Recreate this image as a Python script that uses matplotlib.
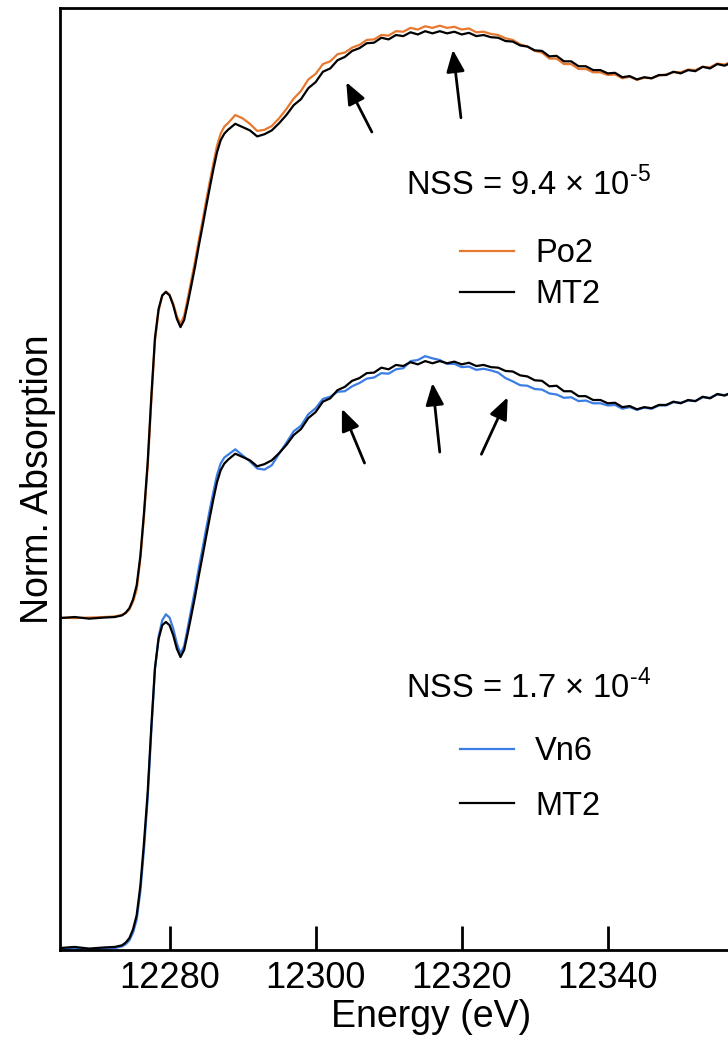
import numpy as np
import matplotlib
matplotlib.use("Agg")
import matplotlib.pyplot as plt

plt.rcParams['font.family'] = ['Liberation Sans', 'DejaVu Sans']
plt.rcParams['mathtext.fontset'] = 'custom'
plt.rcParams['mathtext.rm'] = 'Liberation Sans'

# energies (eV): fine steps across the edge, 1 eV steps above it
energy = [12265, 12267, 12269, 12271, 12272.5, 12273.5, 12274, 12274.5, 12275,
          12275.5, 12276, 12276.5, 12277, 12277.5, 12278, 12278.5, 12279, 12279.5,
          12280, 12280.5, 12281, 12281.5, 12282, 12282.5, 12283, 12283.5,
          12284, 12284.5, 12285, 12285.5, 12286, 12286.5, 12287, 12287.5,
          12288, 12289, 12290, 12291, 12292, 12293, 12294, 12295, 12296, 12297,
          12298, 12299, 12300, 12301, 12302, 12303, 12304, 12305, 12306, 12307,
          12308, 12309, 12310, 12311, 12312, 12313, 12314, 12315, 12316, 12317,
          12318, 12319, 12320, 12321, 12322, 12323, 12324, 12325, 12326, 12327,
          12328, 12329, 12330, 12331, 12332, 12333, 12334, 12335, 12336, 12337,
          12338, 12339, 12340, 12341, 12342, 12343, 12344, 12345, 12346, 12347,
          12348, 12349, 12350, 12351, 12352, 12353, 12354, 12355, 12356, 12357,
          12358]

# normalized XANES, reference compound
mt2 = [0.000, 0.002, -0.001, 0.001, 0.002, 0.005, 0.010, 0.018, 0.034,
       0.060, 0.113, 0.192, 0.283, 0.403, 0.511, 0.564, 0.589, 0.595,
       0.589, 0.571, 0.546, 0.531, 0.544, 0.575, 0.608, 0.642,
       0.679, 0.714, 0.750, 0.785, 0.819, 0.850, 0.872, 0.884,
       0.891, 0.902, 0.896, 0.890, 0.879, 0.883, 0.890, 0.903, 0.918, 0.936,
       0.947, 0.967, 0.978, 0.997, 1.003, 1.018, 1.024, 1.035, 1.040, 1.049,
       1.050, 1.059, 1.056, 1.064, 1.062, 1.069, 1.065, 1.071, 1.067, 1.071,
       1.067, 1.070, 1.065, 1.068, 1.062, 1.064, 1.060, 1.059, 1.053, 1.052,
       1.045, 1.043, 1.036, 1.035, 1.025, 1.026, 1.016, 1.016, 1.007, 1.007,
       1.000, 1.000, 0.994, 0.995, 0.987, 0.989, 0.983, 0.987, 0.985, 0.991,
       0.991, 0.997, 0.994, 1.000, 0.998, 1.006, 1.003, 1.011, 1.008, 1.014,
       1.012]

po2 = [0.001, 0.000, 0.001, 0.002, 0.003, 0.006, 0.009, 0.016, 0.030,
       0.052, 0.108, 0.185, 0.275, 0.395, 0.505, 0.561, 0.588, 0.596,
       0.590, 0.574, 0.551, 0.537, 0.552, 0.584, 0.618, 0.652,
       0.689, 0.724, 0.761, 0.796, 0.830, 0.862, 0.884, 0.897,
       0.903, 0.918, 0.912, 0.902, 0.889, 0.891, 0.898, 0.912, 0.929, 0.948,
       0.962, 0.983, 0.993, 1.011, 1.016, 1.029, 1.032, 1.041, 1.046, 1.055,
       1.056, 1.064, 1.063, 1.071, 1.070, 1.077, 1.074, 1.080, 1.077, 1.081,
       1.077, 1.079, 1.074, 1.076, 1.069, 1.070, 1.066, 1.064, 1.058, 1.055,
       1.047, 1.043, 1.035, 1.032, 1.021, 1.021, 1.011, 1.011, 1.002, 1.002,
       0.996, 0.996, 0.991, 0.992, 0.985, 0.988, 0.982, 0.986, 0.985, 0.990,
       0.992, 0.996, 0.996, 1.001, 1.000, 1.006, 1.005, 1.012, 1.010, 1.016,
       1.014]

vn6 = [-0.002, -0.001, -0.003, -0.001, 0.000, 0.003, 0.007, 0.014, 0.028,
       0.052, 0.103, 0.180, 0.272, 0.395, 0.508, 0.568, 0.598, 0.609,
       0.603, 0.583, 0.556, 0.537, 0.551, 0.585, 0.620, 0.655,
       0.693, 0.728, 0.764, 0.799, 0.832, 0.863, 0.884, 0.895,
       0.900, 0.910, 0.899, 0.888, 0.875, 0.873, 0.881, 0.902, 0.922, 0.943,
       0.953, 0.974, 0.985, 1.002, 1.006, 1.015, 1.016, 1.025, 1.031, 1.039,
       1.041, 1.049, 1.048, 1.056, 1.058, 1.071, 1.073, 1.080, 1.076, 1.073,
       1.066, 1.066, 1.060, 1.061, 1.055, 1.057, 1.054, 1.050, 1.040, 1.034,
       1.027, 1.026, 1.020, 1.019, 1.012, 1.010, 1.004, 1.005, 0.998, 0.999,
       0.994, 0.994, 0.990, 0.991, 0.984, 0.987, 0.982, 0.986, 0.984, 0.990,
       0.990, 0.996, 0.995, 0.999, 0.998, 1.005, 1.004, 1.010, 1.009, 1.013,
       1.012]

offset_top = 0.602
nss_top = 'NSS = 9.4 × 10$^{\\mathregular{\u20105}}$'
nss_bottom = 'NSS = 1.7 × 10$^{\\mathregular{\u20104}}$'

c_orange = '#E8782F'
c_blue = '#3B7DE4'
lw = 1.6

energy = np.array(energy)
mt2 = np.array(mt2)
po2 = np.array(po2)
vn6 = np.array(vn6)

fig = plt.figure(figsize=(7.28, 10.53), dpi=100)
ax = fig.add_axes([60 / 728, 103 / 1053, 742 / 728, 942 / 1053])

# upper pair
l_po2, = ax.plot(energy, po2 + offset_top, color=c_orange, lw=lw, label='Po2')
l_mt2a, = ax.plot(energy, mt2 + offset_top, color='black', lw=lw, label='MT2')
# lower pair
l_vn6, = ax.plot(energy, vn6, color=c_blue, lw=lw, label='Vn6')
l_mt2b, = ax.plot(energy, mt2, color='black', lw=lw, label='MT2')

ax.set_xlim(12265, 12366.6)
ax.set_ylim(-0.0036, 1.7153)
ax.set_xticks([12280, 12300, 12320, 12340])
ax.set_yticks([])
ax.tick_params(axis='x', direction='in', length=17, width=2, pad=8, labelsize=26)
for s in ax.spines.values():
    s.set_linewidth(2)

ax.set_xlabel('Energy (eV)', fontsize=27, labelpad=2)
ax.set_ylabel('Norm. Absorption', fontsize=27, labelpad=3)

# arrows marking the differing features
arrow_kw = dict(arrowstyle='-|>,head_length=0.6,head_width=0.25', color='black',
                lw=2, mutation_scale=22, shrinkA=0, shrinkB=0)
arrows = [((12307.7, 1.489), (12304.2, 1.580)),
          ((12319.9, 1.515), (12318.8, 1.639)),
          ((12306.7, 0.885), (12303.6, 0.984)),
          ((12317.0, 0.905), (12316.0, 1.031)),
          ((12322.7, 0.901), (12326.3, 1.005))]
for tail, tip in arrows:
    ax.annotate('', xy=tip, xytext=tail, arrowprops=arrow_kw)

ax.text(0.466, 0.8015, nss_top, transform=ax.transAxes, fontsize=23.5, va='baseline')
ax.text(0.4663, 0.2675, nss_bottom, transform=ax.transAxes, fontsize=23.5, va='baseline')

leg_kw = dict(frameon=False, fontsize=23.5, handlelength=1.66, handletextpad=0.64,
              loc='center left', borderaxespad=0, borderpad=0)
leg1 = ax.legend([l_po2, l_mt2a], ['Po2', 'MT2'], bbox_to_anchor=(0.539, 0.7176),
                 labelspacing=0.31, **leg_kw)
ax.add_artist(leg1)
ax.legend([l_vn6, l_mt2b], ['Vn6', 'MT2'], bbox_to_anchor=(0.539, 0.1815),
          labelspacing=0.71, **leg_kw)

fig.savefig('out.png', dpi=100)
